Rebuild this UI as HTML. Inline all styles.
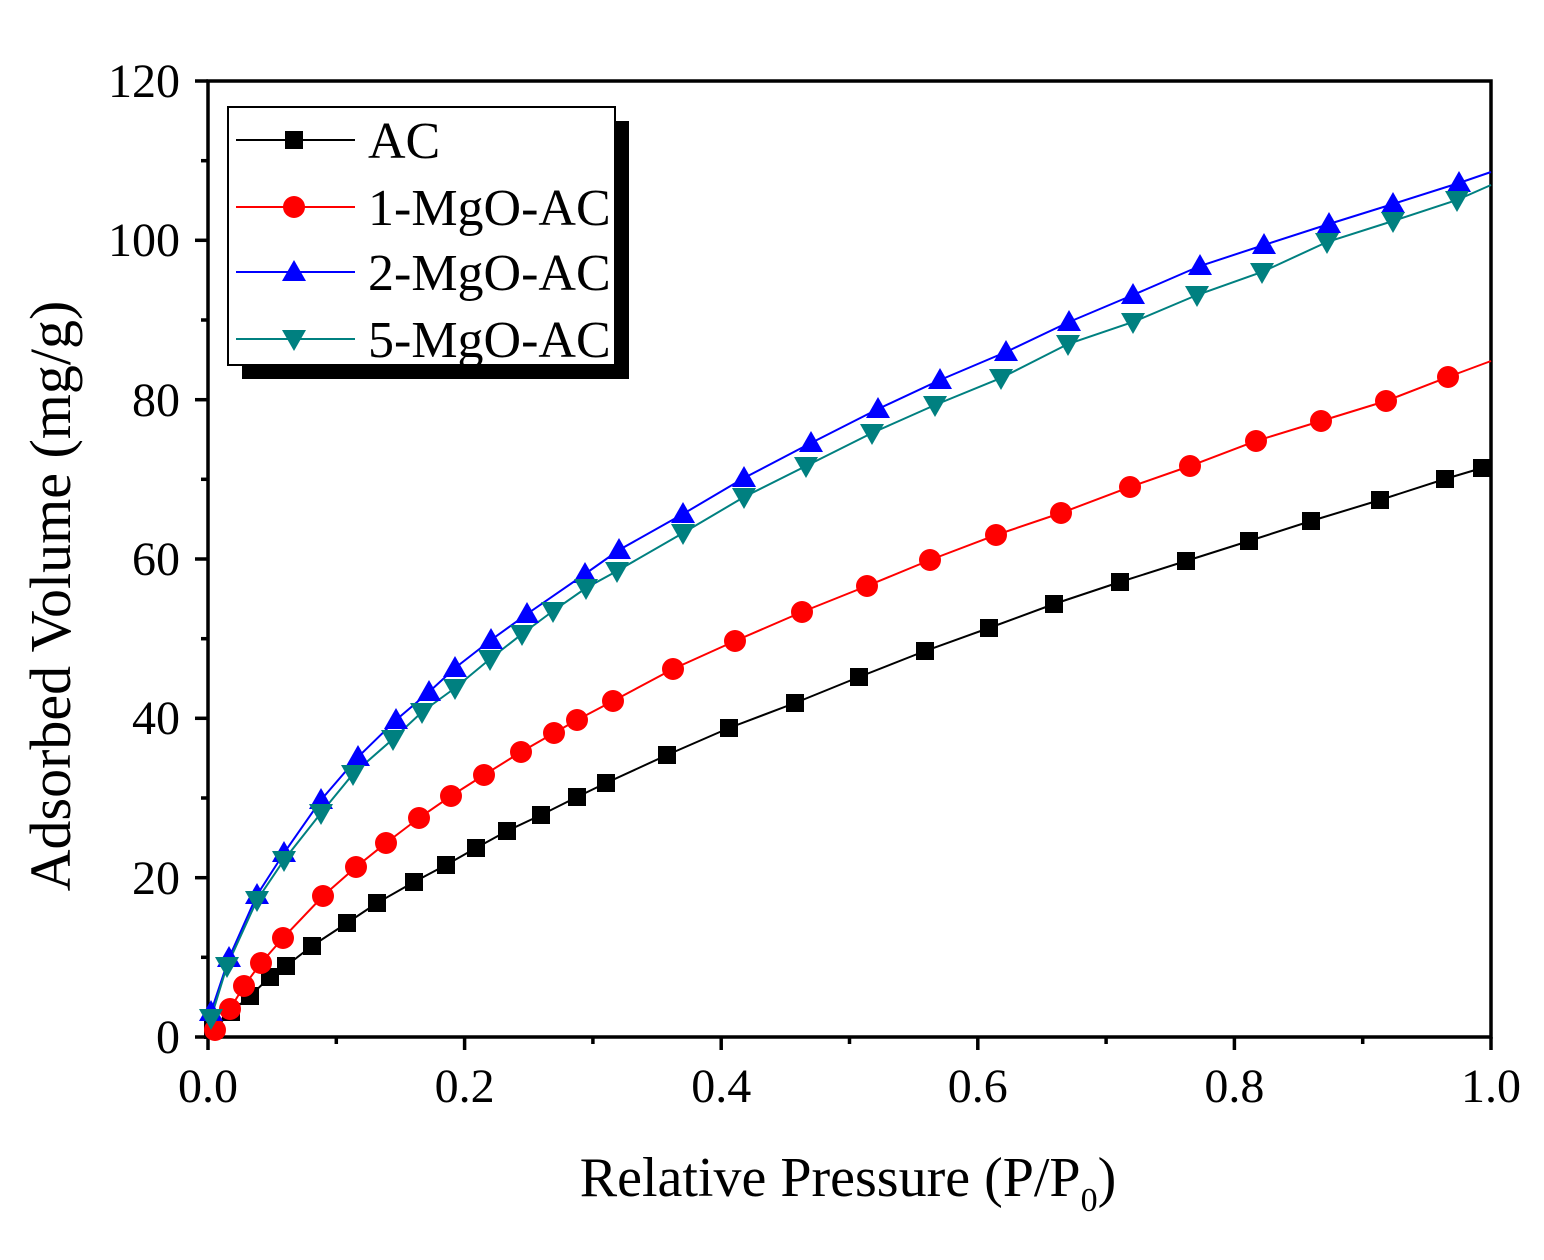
<!DOCTYPE html>
<html><head><meta charset="utf-8"><style>body{margin:0;background:#fff}</style></head><body>
<svg width="1544" height="1255" xmlns="http://www.w3.org/2000/svg" font-family="Liberation Serif, serif">
<rect width="1544" height="1255" fill="#fff"/>
<rect x="208" y="81" width="1283" height="956" fill="none" stroke="#000" stroke-width="3.5"/>
<g stroke="#000" stroke-width="3.5">
<line x1="208" y1="1037" x2="208" y2="1050"/><line x1="464.6" y1="1037" x2="464.6" y2="1050"/><line x1="721.2" y1="1037" x2="721.2" y2="1050"/><line x1="977.8" y1="1037" x2="977.8" y2="1050"/><line x1="1234.4" y1="1037" x2="1234.4" y2="1050"/><line x1="1491" y1="1037" x2="1491" y2="1050"/>
<line x1="336.3" y1="1037" x2="336.3" y2="1044"/><line x1="592.9" y1="1037" x2="592.9" y2="1044"/><line x1="849.5" y1="1037" x2="849.5" y2="1044"/><line x1="1106.1" y1="1037" x2="1106.1" y2="1044"/><line x1="1362.7" y1="1037" x2="1362.7" y2="1044"/>
<line x1="195" y1="1037" x2="208" y2="1037"/><line x1="195" y1="877.7" x2="208" y2="877.7"/><line x1="195" y1="718.3" x2="208" y2="718.3"/><line x1="195" y1="559" x2="208" y2="559"/><line x1="195" y1="399.7" x2="208" y2="399.7"/><line x1="195" y1="240.3" x2="208" y2="240.3"/><line x1="195" y1="81" x2="208" y2="81"/>
<line x1="201" y1="957.3" x2="208" y2="957.3"/><line x1="201" y1="798" x2="208" y2="798"/><line x1="201" y1="638.7" x2="208" y2="638.7"/><line x1="201" y1="479.3" x2="208" y2="479.3"/><line x1="201" y1="320" x2="208" y2="320"/><line x1="201" y1="160.7" x2="208" y2="160.7"/>
</g>
<g font-size="48" text-anchor="middle">
<text x="208" y="1102">0.0</text><text x="464.6" y="1102">0.2</text><text x="721.2" y="1102">0.4</text><text x="977.8" y="1102">0.6</text><text x="1234.4" y="1102">0.8</text><text x="1491" y="1102">1.0</text>
</g>
<g font-size="48" text-anchor="end">
<text x="180" y="1053">0</text><text x="180" y="894">20</text><text x="180" y="734">40</text><text x="180" y="575">60</text><text x="180" y="416">80</text><text x="180" y="256">100</text><text x="180" y="97">120</text>
</g>
<text x="848" y="1196" font-size="56" text-anchor="middle">Relative Pressure (P/P<tspan font-size="34" dy="15">0</tspan><tspan dy="-15">)</tspan></text>
<text transform="translate(70,596) rotate(-90)" font-size="58" text-anchor="middle">Adsorbed Volume (mg/g)</text>
<defs>
<rect id="sq" x="-9" y="-9" width="18" height="18" fill="#000"/>
<circle id="ci" r="11" fill="#f00"/>
<polygon id="tu" points="0,-12 12,9 -12,9" fill="#00f"/>
<polygon id="td" points="0,12 12,-9 -12,-9" fill="#008080"/>
</defs>
<polyline fill="none" stroke="#000" stroke-width="2" points="213,1030 231,1012 250,996 270,977 286,966 312,946 347,923 377,903 414,882 446,865 476,848 507,831 541,815 577,797 606,783 667,755 729,728 795,703 859,677 925,651 989,628 1054,604 1120,582 1186,561 1249,541 1311,521 1380,500 1445,479 1482,468 1491,465"/>
<polyline fill="none" stroke="#f00" stroke-width="2" points="213,1030 230,1009 244,986 261,963 283,938 323,896 356,867 386,843 419,818 451,796 484,775 521,752 554,733 577,720 613,701 673,669 735,641 802,612 867,586 930,560 996,535 1061,513 1130,487 1190,466 1256,441 1321,421 1386,401 1448,377 1491,361"/>
<polyline fill="none" stroke="#00f" stroke-width="2" points="211,1012 229,958 257,895 284,853 321,800 358,757 396,720 429,692 455,668 491,640 527,614 585,574 619,550 683,514 744,478 811,443 878,409 940,380 1006,352 1069,322 1133,295 1200,266 1264,245 1329,224 1393,204 1459,183 1491,172"/>
<polyline fill="none" stroke="#008080" stroke-width="2" points="211,1018 227,966 257,900 284,860 321,813 353,774 393,739 422,712 455,688 490,659 522,634 553,611 586,588 617,571 683,533 744,497 806,466 872,433 935,405 1001,378 1068,344 1133,322 1197,295 1262,272 1327,242 1393,221 1457,200 1491,185"/>
<g>
<use href="#sq" x="213" y="1030"/><use href="#sq" x="231" y="1012"/><use href="#sq" x="250" y="996"/><use href="#sq" x="270" y="977"/><use href="#sq" x="286" y="966"/><use href="#sq" x="312" y="946"/><use href="#sq" x="347" y="923"/><use href="#sq" x="377" y="903"/><use href="#sq" x="414" y="882"/><use href="#sq" x="446" y="865"/><use href="#sq" x="476" y="848"/><use href="#sq" x="507" y="831"/><use href="#sq" x="541" y="815"/><use href="#sq" x="577" y="797"/><use href="#sq" x="606" y="783"/><use href="#sq" x="667" y="755"/><use href="#sq" x="729" y="728"/><use href="#sq" x="795" y="703"/><use href="#sq" x="859" y="677"/><use href="#sq" x="925" y="651"/><use href="#sq" x="989" y="628"/><use href="#sq" x="1054" y="604"/><use href="#sq" x="1120" y="582"/><use href="#sq" x="1186" y="561"/><use href="#sq" x="1249" y="541"/><use href="#sq" x="1311" y="521"/><use href="#sq" x="1380" y="500"/><use href="#sq" x="1445" y="479"/><use href="#sq" x="1482" y="468"/>
</g>
<g>
<use href="#ci" x="215" y="1030"/><use href="#ci" x="230" y="1009"/><use href="#ci" x="244" y="986"/><use href="#ci" x="261" y="963"/><use href="#ci" x="283" y="938"/><use href="#ci" x="323" y="896"/><use href="#ci" x="356" y="867"/><use href="#ci" x="386" y="843"/><use href="#ci" x="419" y="818"/><use href="#ci" x="451" y="796"/><use href="#ci" x="484" y="775"/><use href="#ci" x="521" y="752"/><use href="#ci" x="554" y="733"/><use href="#ci" x="577" y="720"/><use href="#ci" x="613" y="701"/><use href="#ci" x="673" y="669"/><use href="#ci" x="735" y="641"/><use href="#ci" x="802" y="612"/><use href="#ci" x="867" y="586"/><use href="#ci" x="930" y="560"/><use href="#ci" x="996" y="535"/><use href="#ci" x="1061" y="513"/><use href="#ci" x="1130" y="487"/><use href="#ci" x="1190" y="466"/><use href="#ci" x="1256" y="441"/><use href="#ci" x="1321" y="421"/><use href="#ci" x="1386" y="401"/><use href="#ci" x="1448" y="377"/>
</g>
<g>
<use href="#tu" x="211" y="1012"/><use href="#tu" x="229" y="958"/><use href="#tu" x="257" y="895"/><use href="#tu" x="284" y="853"/><use href="#tu" x="321" y="800"/><use href="#tu" x="358" y="757"/><use href="#tu" x="396" y="720"/><use href="#tu" x="429" y="692"/><use href="#tu" x="455" y="668"/><use href="#tu" x="491" y="640"/><use href="#tu" x="527" y="614"/><use href="#tu" x="585" y="574"/><use href="#tu" x="619" y="550"/><use href="#tu" x="683" y="514"/><use href="#tu" x="744" y="478"/><use href="#tu" x="811" y="443"/><use href="#tu" x="878" y="409"/><use href="#tu" x="940" y="380"/><use href="#tu" x="1006" y="352"/><use href="#tu" x="1069" y="322"/><use href="#tu" x="1133" y="295"/><use href="#tu" x="1200" y="266"/><use href="#tu" x="1264" y="245"/><use href="#tu" x="1329" y="224"/><use href="#tu" x="1393" y="204"/><use href="#tu" x="1459" y="183"/>
</g>
<g>
<use href="#td" x="211" y="1018"/><use href="#td" x="227" y="966"/><use href="#td" x="257" y="900"/><use href="#td" x="284" y="860"/><use href="#td" x="321" y="813"/><use href="#td" x="353" y="774"/><use href="#td" x="393" y="739"/><use href="#td" x="422" y="712"/><use href="#td" x="455" y="688"/><use href="#td" x="490" y="659"/><use href="#td" x="522" y="634"/><use href="#td" x="553" y="611"/><use href="#td" x="586" y="588"/><use href="#td" x="617" y="571"/><use href="#td" x="683" y="533"/><use href="#td" x="744" y="497"/><use href="#td" x="806" y="466"/><use href="#td" x="872" y="433"/><use href="#td" x="935" y="405"/><use href="#td" x="1001" y="378"/><use href="#td" x="1068" y="344"/><use href="#td" x="1133" y="322"/><use href="#td" x="1197" y="295"/><use href="#td" x="1262" y="272"/><use href="#td" x="1327" y="242"/><use href="#td" x="1393" y="221"/><use href="#td" x="1457" y="200"/>
</g>
<rect x="242" y="121" width="387" height="258" fill="#000"/>
<rect x="228" y="107" width="387" height="258" fill="#fff" stroke="#000" stroke-width="2"/>
<g stroke-width="2">
<line x1="236" y1="140" x2="355" y2="140" stroke="#000"/><use href="#sq" x="294" y="140"/>
<line x1="236" y1="207" x2="355" y2="207" stroke="#f00"/><use href="#ci" x="294" y="207"/>
<line x1="236" y1="272" x2="355" y2="272" stroke="#00f"/><use href="#tu" x="294" y="272"/>
<line x1="236" y1="339" x2="355" y2="339" stroke="#008080"/><use href="#td" x="294" y="339"/>
</g>
<g font-size="52">
<text x="368" y="158">AC</text><text x="368" y="225">1-MgO-AC</text><text x="368" y="290">2-MgO-AC</text><text x="368" y="357">5-MgO-AC</text>
</g>
</svg>
</body></html>
